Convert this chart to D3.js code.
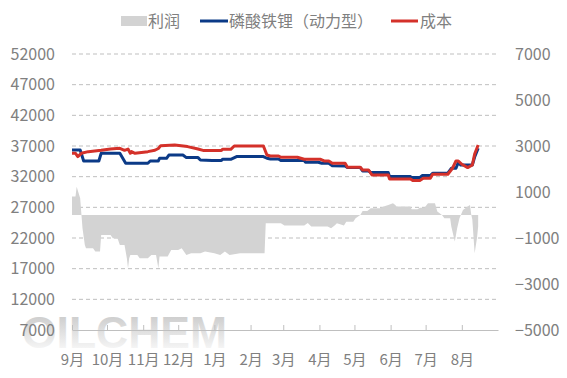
<!DOCTYPE html>
<html>
<head>
<meta charset="utf-8">
<script src="https://cdn.jsdelivr.net/npm/d3@7"></script>
<style>
  body { margin: 0; background: #fff; }
  text { font-family: "Noto Sans CJK SC", "Noto Sans", sans-serif; }
</style>
</head>
<body>
<div id="chart"></div>
<script>
// 磷酸铁锂（动力型）价格、成本与利润, 2024-09 ~ 2025-08

const monthLabels = ["9月", "10月", "11月", "12月", "1月", "2月", "3月", "4月", "5月", "6月", "7月", "8月"];
const leftTicks = [7000, 12000, 17000, 22000, 27000, 32000, 37000, 42000, 47000, 52000];
const rightTicks = [-5000, -3000, -1000, 1000, 3000, 5000, 7000];

// 磷酸铁锂（动力型）价格 (左轴)
const lfpPrice = [
  ["2024-09-01", 36350], ["2024-09-08", 36350], ["2024-09-11", 34560], ["2024-09-24", 34560],
  ["2024-09-26", 35810], ["2024-10-12", 35810], ["2024-10-17", 34180], ["2024-11-05", 34180],
  ["2024-11-07", 34560], ["2024-11-14", 34560], ["2024-11-15", 35000], ["2024-11-21", 35000],
  ["2024-11-23", 35530], ["2024-12-05", 35530], ["2024-12-08", 35110], ["2024-12-18", 35110],
  ["2024-12-20", 34720], ["2024-12-30", 34620], ["2025-01-07", 34620], ["2025-01-08", 34830],
  ["2025-01-15", 34830], ["2025-01-20", 35270], ["2025-02-12", 35270], ["2025-02-15", 35000],
  ["2025-02-18", 34890], ["2025-02-25", 34890], ["2025-02-27", 34620], ["2025-03-19", 34620],
  ["2025-03-20", 34350], ["2025-03-31", 34350], ["2025-04-03", 34180], ["2025-04-09", 34180],
  ["2025-04-12", 33800], ["2025-04-23", 33750], ["2025-04-25", 33480], ["2025-05-06", 33480],
  ["2025-05-08", 32930], ["2025-05-13", 32930], ["2025-05-15", 32670], ["2025-05-30", 32670],
  ["2025-05-31", 32020], ["2025-06-18", 32020], ["2025-06-19", 31860], ["2025-06-26", 31860],
  ["2025-06-28", 32180], ["2025-07-05", 32180], ["2025-07-07", 32560], ["2025-07-20", 32560],
  ["2025-07-23", 33370], ["2025-07-27", 33370], ["2025-07-29", 34350], ["2025-07-31", 33910],
  ["2025-08-10", 33910], ["2025-08-12", 35200], ["2025-08-15", 36630]
];

// 成本 (左轴)
const cost = [
  ["2024-09-01", 35810], ["2024-09-04", 35810], ["2024-09-06", 35270], ["2024-09-09", 35810],
  ["2024-09-15", 36080], ["2024-09-26", 36300], ["2024-10-04", 36510], ["2024-10-12", 36630],
  ["2024-10-16", 36300], ["2024-10-19", 36500], ["2024-10-21", 35810], ["2024-10-22", 36080],
  ["2024-10-25", 35810], ["2024-11-05", 36080], ["2024-11-11", 36300], ["2024-11-14", 36600],
  ["2024-11-16", 37060], ["2024-11-28", 37160], ["2024-12-09", 36900], ["2024-12-18", 36510],
  ["2024-12-23", 36250], ["2025-01-07", 36250], ["2025-01-08", 36460], ["2025-01-15", 36460],
  ["2025-01-18", 37000], ["2025-02-12", 37000], ["2025-02-15", 35530], ["2025-02-18", 35370],
  ["2025-02-25", 35370], ["2025-02-27", 35160], ["2025-03-13", 35160], ["2025-03-19", 34830],
  ["2025-04-02", 34830], ["2025-04-05", 34560], ["2025-04-09", 34560], ["2025-04-12", 34180],
  ["2025-04-23", 34180], ["2025-04-25", 33530], ["2025-05-06", 33530], ["2025-05-08", 33090],
  ["2025-05-13", 33090], ["2025-05-16", 32280], ["2025-05-30", 32280], ["2025-05-31", 31630],
  ["2025-06-18", 31630], ["2025-06-20", 31370], ["2025-06-26", 31370], ["2025-06-29", 31740],
  ["2025-07-05", 31740], ["2025-07-07", 32390], ["2025-07-20", 32390], ["2025-07-24", 33370],
  ["2025-07-27", 34560], ["2025-07-29", 34560], ["2025-08-01", 34020], ["2025-08-06", 33480],
  ["2025-08-10", 33910], ["2025-08-12", 35700], ["2025-08-15", 37160]
];

// 利润 (右轴)
const profit = [
  ["2024-09-01", 800], ["2024-09-04", 800], ["2024-09-05", 1230], ["2024-09-08", 725],
  ["2024-09-10", -577], ["2024-09-12", -1300], ["2024-09-13", -1445], ["2024-09-19", -1445],
  ["2024-09-21", -1590], ["2024-09-25", -1590], ["2024-09-26", -870], ["2024-10-04", -870],
  ["2024-10-06", -1010], ["2024-10-10", -1010], ["2024-10-12", -1300], ["2024-10-16", -1300],
  ["2024-10-18", -1880], ["2024-10-19", -2310], ["2024-10-20", -1880], ["2024-10-21", -1735],
  ["2024-10-27", -1735], ["2024-10-29", -1880], ["2024-11-05", -1880], ["2024-11-08", -1735],
  ["2024-11-12", -1735], ["2024-11-14", -2310], ["2024-11-15", -1800], ["2024-11-22", -1800],
  ["2024-11-25", -1520], ["2024-12-01", -1520], ["2024-12-04", -1445], ["2024-12-08", -1735],
  ["2024-12-12", -1660], ["2024-12-20", -1660], ["2024-12-24", -1590], ["2025-01-01", -1660],
  ["2025-01-06", -1735], ["2025-01-10", -1590], ["2025-01-14", -1735], ["2025-01-23", -1660],
  ["2025-02-13", -1660], ["2025-02-14", -360], ["2025-02-27", -360], ["2025-03-02", -460],
  ["2025-03-19", -460], ["2025-03-22", -350], ["2025-03-25", -500], ["2025-04-08", -500],
  ["2025-04-11", -577], ["2025-04-14", -460], ["2025-04-16", -360], ["2025-04-22", -460],
  ["2025-04-24", -290], ["2025-04-30", -290], ["2025-05-02", -143], ["2025-05-06", 0],
  ["2025-05-08", 175], ["2025-05-12", 175], ["2025-05-15", 290], ["2025-05-23", 290],
  ["2025-05-26", 365], ["2025-05-30", 434], ["2025-06-03", 510], ["2025-06-05", 434],
  ["2025-06-06", 365], ["2025-06-18", 365], ["2025-06-19", 250], ["2025-06-24", 250],
  ["2025-06-26", 320], ["2025-06-30", 320], ["2025-07-03", 510], ["2025-07-09", 510],
  ["2025-07-11", 150], ["2025-07-15", 0], ["2025-07-17", -143], ["2025-07-22", -143],
  ["2025-07-23", -500], ["2025-07-26", -1155], ["2025-07-28", -577], ["2025-07-30", -143],
  ["2025-08-02", 220], ["2025-08-06", 365], ["2025-08-08", 434], ["2025-08-09", 40],
  ["2025-08-10", -200], ["2025-08-12", -1660], ["2025-08-14", -1000], ["2025-08-15", -500]
];

const width = 567, height = 378;
const parse = d3.timeParse("%Y-%m-%d");
const toPts = arr => arr.map(([d, v]) => ({ date: parse(d), value: v }));

const svg = d3.select("#chart").append("svg")
  .attr("width", width)
  .attr("height", height);

// scales
const x = d3.scaleTime()
  .domain([parse("2024-09-01"), parse("2025-09-01")])
  .range([72, 498]);
const yL = d3.scaleLinear().domain([7000, 52000]).range([330, 54]);
const yR = d3.scaleLinear().domain([-5000, 7000]).range([330, 54]);

const textColor = "#808080";
const axisColor = "#bfbfbf";

// watermark
const defs = svg.append("defs");
const grad = defs.append("linearGradient")
  .attr("id", "wm").attr("x1", 0).attr("y1", 0).attr("x2", 0).attr("y2", 1);
grad.append("stop").attr("offset", "0%").attr("stop-color", "#c4c4c4");
grad.append("stop").attr("offset", "100%").attr("stop-color", "#ffffff");
svg.append("text")
  .attr("x", 22).attr("y", 348)
  .style("font-family", "'Liberation Sans', Arial, sans-serif")
  .style("font-size", "44px")
  .style("font-weight", "bold")
  .attr("textLength", 205)
  .attr("lengthAdjust", "spacingAndGlyphs")
  .attr("fill", "url(#wm)")
  .text("OILCHEM");

// gridlines
svg.append("g")
  .selectAll("line")
  .data(leftTicks.filter(t => t > 7000))
  .join("line")
  .attr("x1", 72).attr("x2", 498)
  .attr("y1", d => yL(d)).attr("y2", d => yL(d))
  .attr("stroke", axisColor)
  .attr("stroke-dasharray", "4,3");

// profit area
const area = d3.area()
  .x(d => x(d.date))
  .y0(yR(0))
  .y1(d => yR(d.value));
svg.append("path")
  .datum(toPts(profit))
  .attr("d", area)
  .attr("fill", "#d3d3d3");

// lines
const lineL = d3.line().x(d => x(d.date)).y(d => yL(d.value));
svg.append("path")
  .datum(toPts(lfpPrice))
  .attr("d", lineL)
  .attr("fill", "none")
  .attr("stroke", "#0b3a87")
  .attr("stroke-width", 3)
  .attr("stroke-linejoin", "round");
svg.append("path")
  .datum(toPts(cost))
  .attr("d", lineL)
  .attr("fill", "none")
  .attr("stroke", "#d4312a")
  .attr("stroke-width", 3)
  .attr("stroke-linejoin", "round");

// axes
const months = d3.timeMonth.range(parse("2024-09-01"), parse("2025-09-01"));
const xAxis = svg.append("g")
  .attr("transform", `translate(0,${yL(7000)})`)
  .call(d3.axisBottom(x)
    .tickValues(months)
    .tickFormat((d, i) => monthLabels[i])
    .tickSizeInner(-5)
    .tickSizeOuter(0)
    .tickPadding(24));
xAxis.select(".domain").attr("stroke", axisColor);
xAxis.selectAll(".tick line").attr("stroke", axisColor);
xAxis.selectAll("text").attr("fill", textColor).attr("font-size", 15);

const yAxisL = svg.append("g")
  .attr("transform", "translate(72,0)")
  .call(d3.axisLeft(yL).tickValues(leftTicks).tickSize(0).tickPadding(17).tickFormat(d3.format("d")));
yAxisL.select(".domain").remove();
yAxisL.selectAll("text").attr("fill", textColor).attr("font-size", 16);

const yAxisR = svg.append("g")
  .attr("transform", "translate(498,0)")
  .call(d3.axisRight(yR).tickValues(rightTicks).tickSize(0).tickPadding(17).tickFormat(d3.format("d")));
yAxisR.select(".domain").remove();
yAxisR.selectAll("text").attr("fill", textColor).attr("font-size", 16);

// legend
const legend = svg.append("g").attr("transform", "translate(0,21)");
legend.append("rect").attr("x", 121).attr("y", -5).attr("width", 26).attr("height", 10).attr("fill", "#d3d3d3");
legend.append("text").attr("x", 148).attr("y", 0).attr("dy", "0.35em").attr("fill", textColor).attr("font-size", 16).text("利润");
legend.append("line").attr("x1", 200).attr("x2", 228).attr("y1", 0).attr("y2", 0).attr("stroke", "#0b3a87").attr("stroke-width", 3);
legend.append("text").attr("x", 229).attr("y", 0).attr("dy", "0.35em").attr("fill", textColor).attr("font-size", 16).text("磷酸铁锂（动力型）");
legend.append("line").attr("x1", 391).attr("x2", 418).attr("y1", 0).attr("y2", 0).attr("stroke", "#d4312a").attr("stroke-width", 3);
legend.append("text").attr("x", 420).attr("y", 0).attr("dy", "0.35em").attr("fill", textColor).attr("font-size", 16).text("成本");
</script>
</body>
</html>
